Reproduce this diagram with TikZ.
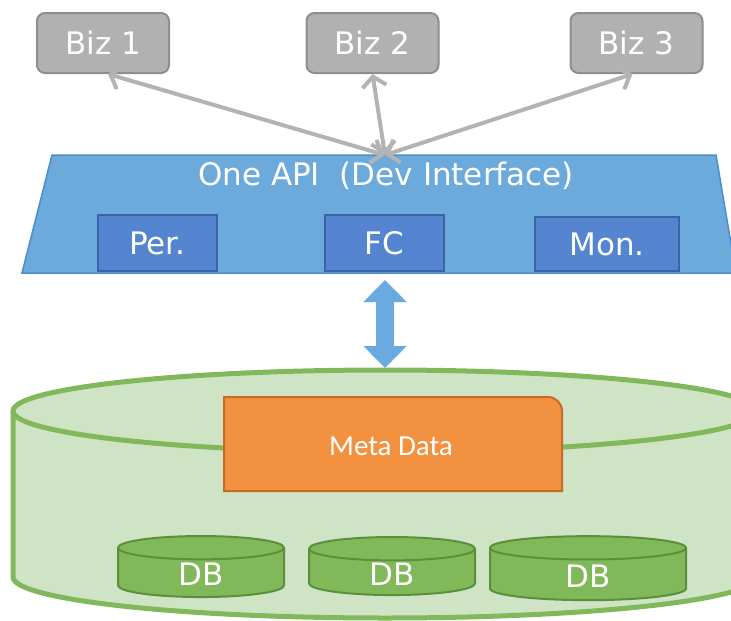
\documentclass[tikz,border=0pt]{standalone}
\usepackage{fontspec}
\setmainfont{DejaVu Sans}
\newfontfamily\metafont{Carlito}
\usepackage{xcolor}
\definecolor{bizgray}{HTML}{B1B1B1}
\definecolor{bizborder}{HTML}{8E8E8E}
\definecolor{linkgray}{HTML}{B3B3B3}
\definecolor{apiblue}{HTML}{6CAADC}
\definecolor{apiborder}{HTML}{4C8ECB}
\definecolor{modblue}{HTML}{5585D0}
\definecolor{modborder}{HTML}{3B63A8}
\definecolor{storefill}{HTML}{CFE4C4}
\definecolor{storeborder}{HTML}{82B85C}
\definecolor{dbgreen}{HTML}{80B85A}
\definecolor{dbborder}{HTML}{5C8F3C}
\definecolor{metaorange}{HTML}{F29240}
\definecolor{metaborder}{HTML}{C56A27}
\definecolor{pipeblue}{HTML}{6BAAE0}
\usepackage{tikz}
\usetikzlibrary{arrows.meta, shapes.geometric}
\tikzset{
	biz/.style={draw=bizborder, fill=bizgray, line width=2pt, rounded corners=8pt,
	minimum width=132pt, minimum height=60pt, text=white, font=\fontsize{31}{35}\selectfont},
	module/.style={draw=modborder, fill=modblue, line width=2pt, minimum height=56pt,
	text=white, font=\fontsize{31}{35}\selectfont},
	link/.style={draw=linkgray, line width=4pt,
	{Straight Barb[length=10pt,width=24pt]}-{Straight Barb[length=10pt,width=24pt]}},
	db/.style={cylinder, shape border rotate=90, draw=dbborder, line width=2pt, fill=dbgreen,
	aspect=0.45, text=white, font=\fontsize{31}{35}\selectfont}
}

\begin{document}
\begin{tikzpicture}[x=1pt, y=-1pt]
	\useasboundingbox (0, 0) rectangle (731, 621);
	\clip (0, 0) rectangle (731, 621);

	% storage cylinder
	\filldraw[fill=storefill, draw=storeborder, line width=5pt] (13, 411) -- (13, 577)
		arc[start angle=180, end angle=360, x radius=372pt, y radius=41pt] -- (757, 411)
		arc[start angle=0, end angle=180, x radius=372pt, y radius=41pt] -- cycle;
	\draw[storeborder, line width=5pt] (13, 411) arc[start angle=180, end angle=360, x radius=372pt, y radius=41pt];

	% meta data
	\filldraw[fill=metaorange, draw=metaborder, line width=2pt] (224, 491) -- (224, 397) -- (548, 397)
		arc[start angle=90, end angle=0, radius=14pt] -- (562, 491) -- cycle;
	\node[text=white, font=\metafont\fontsize{29}{33}\selectfont] (meta) at (391, 446) {Meta Data};

	% databases
	\node[db, minimum width=166pt, minimum height=61pt] (db1) at (201, 574.5) {\raisebox{-11pt}[0pt][0pt]{DB}};
	\node[db, minimum width=166pt, minimum height=58pt] (db2) at (392, 574) {\raisebox{-11pt}[0pt][0pt]{DB}};
	\node[db, minimum width=196pt, minimum height=64pt] (db3) at (588, 576) {\raisebox{-11pt}[0pt][0pt]{DB}};

	% api layer
	\filldraw[fill=apiblue, draw=apiborder, line width=1.5pt] (52, 155) -- (716, 155) -- (736, 273) -- (22, 273) -- cycle;
	\node[text=white, font=\fontsize{31}{35}\selectfont] (api) at (386, 176) {One API\ \ (Dev Interface)};
	\node[module, minimum width=119pt] (per) at (157.5, 243) {Per.};
	\node[module, minimum width=119pt] (fc) at (384.5, 243) {FC};
	\node[module, minimum width=144pt, minimum height=54pt] (mon) at (607, 244) {Mon.};

	% link between api and storage
	\coordinate (apibottom) at (385, 280);
	\coordinate (storetop) at (385, 368);
	\draw[pipeblue, line width=18pt, {Triangle[length=22pt,width=42pt]}-{Triangle[length=22pt,width=42pt]}] (apibottom) -- (storetop);

	% business apps
	\node[biz] (biz1) at (103, 43) {Biz 1};
	\node[biz] (biz2) at (372.5, 43) {Biz 2};
	\node[biz] (biz3) at (636.5, 43) {Biz 3};

	\coordinate (hub) at (385, 155);
	\draw[link] (hub) -- ([xshift=5pt]biz1.south);
	\draw[link] (hub) -- (biz2.south);
	\draw[link] (hub) -- ([xshift=-4pt]biz3.south);
\end{tikzpicture}
\end{document}
